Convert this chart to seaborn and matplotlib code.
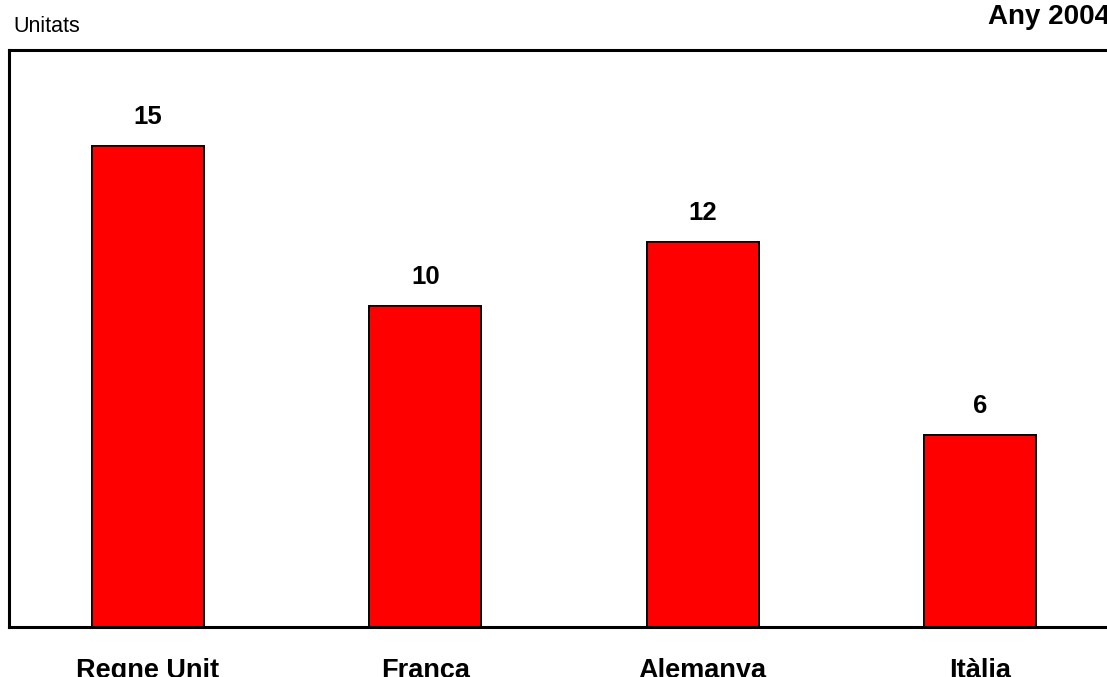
import matplotlib
matplotlib.use("Agg")
import matplotlib.pyplot as plt
import seaborn as sns
import pandas as pd

# Vehicle units by country, 2004
countries = ["Regne Unit", "França", "Alemanya", "Itàlia"]
units = [15, 10, 12, 6]

df = pd.DataFrame({"country": countries, "units": units})

sns.set_style("white")
plt.rcParams["font.family"] = ["Liberation Sans", "DejaVu Sans"]
plt.rcParams["text.color"] = "black"
plt.rcParams["xtick.color"] = "black"
plt.rcParams["xtick.labelcolor"] = "black"

W, H, DPI = 1107, 677, 100
fig = plt.figure(figsize=(W / DPI, H / DPI), dpi=DPI)
ax = fig.add_axes([9 / W, (H - 627) / H, 1110 / W, 577 / H])

sns.barplot(data=df, x="country", y="units", color="#ff0000", width=0.405,
            edgecolor="black", linewidth=1.4, saturation=1, ax=ax)

ax.set_xlim(-0.5, 3.5)
ax.set_ylim(0, 18)
ax.set_xlabel("")
ax.set_ylabel("")
ax.set_yticks([])
ax.tick_params(axis="x", length=0, pad=22, labelcolor="black")
for lab in ax.get_xticklabels():
    lab.set_fontsize(19.5)
    lab.set_fontweight("bold")
    lab.set_color("black")

for spine in ax.spines.values():
    spine.set_visible(True)
    spine.set_color("black")
    spine.set_linewidth(2.2)

for i, v in enumerate(units):
    ax.annotate(f"{v}", xy=(i, v), xytext=(0, 17), textcoords="offset pixels",
                ha="center", va="bottom", fontsize=18.5, fontweight="bold",
                color="black")

fig.text(13 / W, 1 - 27 / H, "Unitats", ha="left", va="center", fontsize=15.5,
         color="black")
fig.text(988 / W, 1 - 17 / H, "Any 2004", ha="left", va="center",
         fontsize=20, fontweight="bold", color="black")

fig.savefig("out.png", dpi=DPI)
